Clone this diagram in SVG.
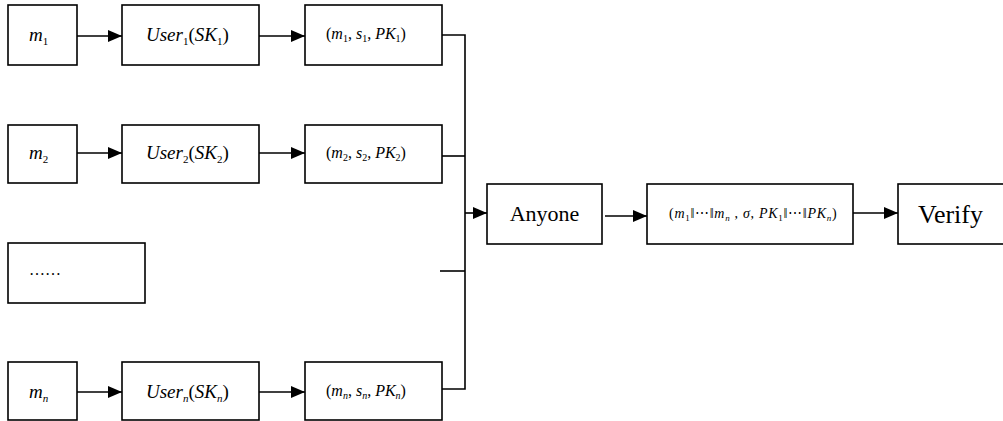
<svg xmlns="http://www.w3.org/2000/svg" width="1003" height="421" viewBox="0 0 1003 421">
<style>
rect{fill:#fff;stroke:#000;stroke-width:1.6}
.c{fill:none;stroke:#000;stroke-width:1.6}
text{font-family:"Liberation Serif","DejaVu Serif","Times New Roman",serif;fill:#000}
.m{font-style:italic;font-size:19px}
.t{font-style:italic;font-size:16px}
.s{font-size:11px;font-style:normal}
.si{font-size:11px;font-style:italic}
.ss{font-size:10px;font-style:normal}
.ssi{font-size:10px;font-style:italic}
.sig{font-style:italic;font-size:14px;letter-spacing:0.7px}
.sx{font-size:9px;font-style:normal}
.sxi{font-size:9px;font-style:italic}
.n{font-style:normal}
</style>
<defs>
<marker id="a" markerUnits="userSpaceOnUse" markerWidth="15" markerHeight="13" refX="14" refY="6" orient="auto">
<path d="M0,0 L14,6 L0,12 z" fill="#000"/>
</marker>
</defs>
<g id="connectors">
<line class="c" x1="77" y1="36" x2="122" y2="36" marker-end="url(#a)"/>
<line class="c" x1="259" y1="36" x2="305" y2="36" marker-end="url(#a)"/>
<line class="c" x1="77" y1="153" x2="122" y2="153" marker-end="url(#a)"/>
<line class="c" x1="259" y1="153" x2="305" y2="153" marker-end="url(#a)"/>
<line class="c" x1="77" y1="392" x2="122" y2="392" marker-end="url(#a)"/>
<line class="c" x1="259" y1="392" x2="305" y2="392" marker-end="url(#a)"/>
<polyline class="c" points="442,35 465,35 465,389 442,389"/>
<line class="c" x1="441" y1="156" x2="465" y2="156"/>
<line class="c" x1="440" y1="271" x2="465" y2="271"/>
<line class="c" x1="465" y1="213" x2="487" y2="213" marker-end="url(#a)"/>
<line class="c" x1="605" y1="216" x2="647" y2="216" marker-end="url(#a)"/>
<line class="c" x1="853" y1="213" x2="898" y2="213" marker-end="url(#a)"/>
</g>
<g id="m1"><rect x="8" y="5" width="69" height="60"/><text class="m" x="29" y="41">m<tspan class="s" dy="4">1</tspan></text></g>
<g id="user1"><rect x="122" y="5" width="137" height="60"/><text class="m" x="146" y="41">User<tspan class="s" dy="4">1</tspan><tspan dy="-4" class="n">(</tspan>SK<tspan class="s" dy="4">1</tspan><tspan dy="-4" class="n">)</tspan></text></g>
<g id="out1"><rect x="305" y="5" width="137" height="60"/><text class="t" x="326" y="39"><tspan class="n">(</tspan>m<tspan class="ss" dy="3">1</tspan><tspan dy="-3" class="n">, </tspan>s<tspan class="ss" dy="3">1</tspan><tspan dy="-3" class="n">, </tspan>PK<tspan class="ss" dy="3">1</tspan><tspan dy="-3" class="n">)</tspan></text></g>
<g id="m2"><rect x="8" y="125" width="69" height="58"/><text class="m" x="29" y="159">m<tspan class="s" dy="4">2</tspan></text></g>
<g id="user2"><rect x="122" y="125" width="137" height="58"/><text class="m" x="146" y="159">User<tspan class="s" dy="4">2</tspan><tspan dy="-4" class="n">(</tspan>SK<tspan class="s" dy="4">2</tspan><tspan dy="-4" class="n">)</tspan></text></g>
<g id="out2"><rect x="305" y="125" width="137" height="58"/><text class="t" x="326" y="158"><tspan class="n">(</tspan>m<tspan class="ss" dy="3">2</tspan><tspan dy="-3" class="n">, </tspan>s<tspan class="ss" dy="3">2</tspan><tspan dy="-3" class="n">, </tspan>PK<tspan class="ss" dy="3">2</tspan><tspan dy="-3" class="n">)</tspan></text></g>
<g id="dots"><rect x="8" y="243" width="137" height="60"/><text x="29" y="275" font-size="16">……</text></g>
<g id="mn"><rect x="8" y="362" width="69" height="58"/><text class="m" x="29" y="398">m<tspan class="si" dy="4">n</tspan></text></g>
<g id="usern"><rect x="122" y="362" width="137" height="58"/><text class="m" x="146" y="398">User<tspan class="si" dy="4">n</tspan><tspan dy="-4" class="n">(</tspan>SK<tspan class="si" dy="4">n</tspan><tspan dy="-4" class="n">)</tspan></text></g>
<g id="outn"><rect x="305" y="362" width="137" height="58"/><text class="t" x="326" y="396"><tspan class="n">(</tspan>m<tspan class="ssi" dy="3">n</tspan><tspan dy="-3" class="n">, </tspan>s<tspan class="ssi" dy="3">n</tspan><tspan dy="-3" class="n">, </tspan>PK<tspan class="ssi" dy="3">n</tspan><tspan dy="-3" class="n">)</tspan></text></g>
<g id="anyone"><rect x="487" y="184" width="115" height="60"/><text x="544.5" y="221" font-size="22" text-anchor="middle">Anyone</text></g>
<g id="sig"><rect x="647" y="184" width="206" height="60"/><text class="sig" x="669" y="218"><tspan class="n">(</tspan>m<tspan class="sx" dy="3">1</tspan><tspan dy="-3" class="n">‖⋯‖</tspan>m<tspan class="sxi" dy="3">n</tspan><tspan dy="-3" class="n"> , </tspan>σ<tspan class="n">, </tspan>PK<tspan class="sx" dy="3">1</tspan><tspan dy="-3" class="n">‖⋯‖</tspan>PK<tspan class="sxi" dy="3">n</tspan><tspan dy="-3" class="n">)</tspan></text></g>
<g id="verify"><rect x="898" y="184" width="110" height="60"/><text x="918" y="223" font-size="26">Verify</text></g>
</svg>
